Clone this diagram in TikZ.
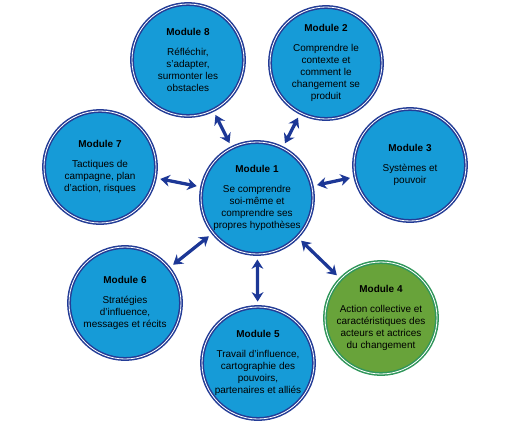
\documentclass[tikz,border=0pt]{standalone}
\usepackage{fontspec}
\setmainfont{Liberation Sans}
\usetikzlibrary{arrows.meta}
\definecolor{modblue}{RGB}{22,155,215}
\definecolor{ringblue}{RGB}{35,60,150}
\definecolor{modgreen}{RGB}{104,163,58}
\definecolor{ringgreen}{RGB}{48,150,90}
\definecolor{arrowblue}{RGB}{28,55,150}

\begin{document}
\begin{tikzpicture}[x=0.03cm,y=-0.03cm,
  module/.style={circle,fill=modblue,draw=ringblue,line width=1.3pt,double=white,double distance=0.7pt,
    minimum size=3.36cm,inner sep=0pt,align=center,font=\fontsize{8.5}{10.2}\selectfont},
  greenmod/.style={fill=modgreen,draw=ringgreen},
  link/.style={{Stealth[length=8pt,width=10pt]}-{Stealth[length=8pt,width=10pt]},
    line width=2.8pt,draw=arrowblue,shorten >=4pt,shorten <=4pt}]
  \useasboundingbox (0,0) rectangle (512,421);
  % central module
  \node[module] (m1) at (257,198) {\textbf{Module 1}\\[7pt]Se comprendre\\soi-même et\\comprendre ses\\propres hypothèses};
  % modules around it
  \node[module] (m2) at (326,63) {\textbf{Module 2}\\[7pt]Comprendre le\\contexte et\\comment le\\changement se\\produit};
  \node[module] (m3) at (410,165) {\textbf{Module 3}\\[7pt]Systèmes et\\pouvoir};
  \node[module,greenmod] (m4) at (381,318) {\textbf{Module 4}\\[7pt]Action collective et\\caractéristiques des\\acteurs et actrices\\du changement};
  \node[module] (m5) at (258,363) {\textbf{Module 5}\\[7pt]Travail d'influence,\\cartographie des\\pouvoirs,\\partenaires et alliés};
  \node[module] (m6) at (125,303) {\textbf{Module 6}\\[7pt]Stratégies\\d’influence,\\messages et récits};
  \node[module] (m7) at (100,167) {\textbf{Module 7}\\[7pt]Tactiques de\\campagne, plan\\d’action, risques};
  \node[module] (m8) at (188,60) {\textbf{Module 8}\\[7pt]Réfléchir,\\s'adapter,\\surmonter les\\obstacles};
  % two-way links
  \foreach \m in {m2,m3,m4,m5,m6,m7,m8}
    \draw[link] (m1) -- (\m);
\end{tikzpicture}
\end{document}
